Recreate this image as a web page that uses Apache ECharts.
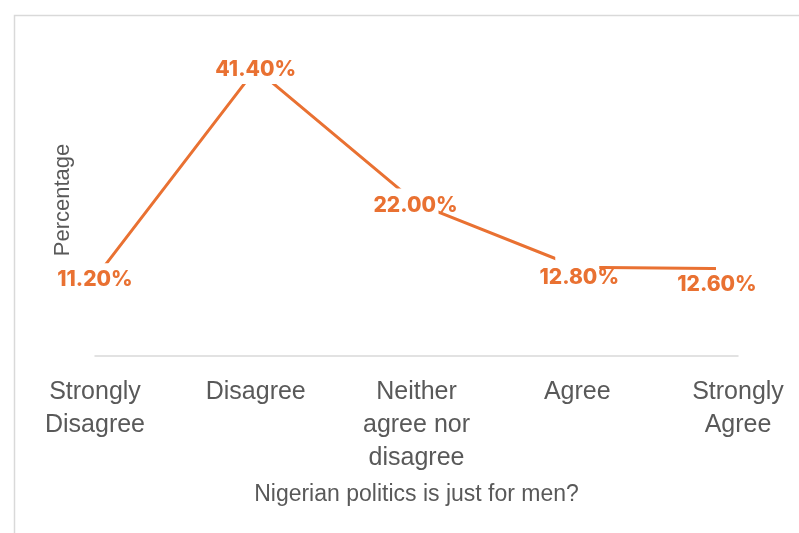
<!DOCTYPE html>
<html>
<head>
<meta charset="utf-8">
<title>Nigerian politics is just for men?</title>
<script src="https://cdn.jsdelivr.net/npm/echarts@6/dist/echarts.min.js"></script>
<style>
  html, body { margin: 0; padding: 0; background: #fff; }
  #chart { width: 799px; height: 533px; }
</style>
</head>
<body>
<div id="chart"></div>
<script>
// Survey responses: "Nigerian politics is just for men?"
const categories = ['Strongly\nDisagree', 'Disagree', 'Neither\nagree nor\ndisagree', 'Agree', 'Strongly\nAgree'];
const percentages = [11.2, 41.4, 22.0, 12.8, 12.6];
const xTitle = 'Nigerian politics is just for men?';
const yTitle = 'Percentage';

// Nudges for the value labels so they sit clear of the line
const labelNudges = [[0, 1], [0, 1], [-1, 2], [2, 10], [-21, 16]];

const ORANGE = '#E97132';
const GREY_TEXT = '#595959';

const chart = echarts.init(document.getElementById('chart'), null, { renderer: 'canvas' });

chart.setOption({
  animation: false,
  backgroundColor: '#fff',
  graphic: [{
    type: 'rect',
    left: 12, top: 13,
    shape: { width: 820, height: 560 },
    style: { fill: 'none', stroke: '#d9d9d9', lineWidth: 1.5 },
    silent: true
  }],
  grid: { left: 95, right: 61, top: 44, bottom: 177 },
  xAxis: {
    type: 'category',
    data: categories,
    boundaryGap: false,
    axisLine: { lineStyle: { color: '#d9d9d9', width: 1.5 } },
    axisTick: { show: false },
    axisLabel: {
      interval: 0,
      margin: 20,
      color: GREY_TEXT,
      fontFamily: 'Liberation Sans',
      fontSize: 25,
      lineHeight: 33,
      align: 'center'
    },
    name: xTitle,
    nameLocation: 'middle',
    nameGap: 127,
    nameTextStyle: { color: GREY_TEXT, fontFamily: 'Liberation Sans', fontSize: 23 }
  },
  yAxis: {
    type: 'value',
    min: 0,
    max: 45,
    interval: 5,
    splitLine: { show: false },
    axisLine: { show: false },
    axisTick: { show: false },
    axisLabel: { show: false },
    name: yTitle,
    nameLocation: 'middle',
    nameRotate: 90,
    nameGap: 21,
    nameTextStyle: { color: GREY_TEXT, fontFamily: 'Liberation Sans', fontSize: 22 }
  },
  series: [
    {
      // the line, with white boxes clearing a space around each point
      type: 'line',
      data: percentages,
      z: 2,
      symbol: 'circle',
      symbolSize: 1,
      itemStyle: { color: '#fff' },
      lineStyle: { color: ORANGE, width: 3 },
      label: {
        show: true,
        position: 'inside',
        formatter: ' ',
        width: 44,
        height: 30,
        backgroundColor: '#fff',
        color: '#fff'
      },
      emphasis: { disabled: true },
      silent: true
    },
    {
      // value labels
      type: 'line',
      data: percentages.map((v, i) => ({ value: v, label: { offset: labelNudges[i] } })),
      z: 3,
      symbol: 'circle',
      symbolSize: 1,
      itemStyle: { color: 'rgba(255,255,255,0)' },
      lineStyle: { opacity: 0, width: 0 },
      label: {
        show: true,
        position: 'inside',
        formatter: p => p.value.toFixed(2) + '%',
        color: ORANGE,
        fontFamily: 'Inter',
        fontWeight: 800,
        fontSize: 21
      },
      emphasis: { disabled: true },
      silent: true
    }
  ]
});
</script>
</body>
</html>
